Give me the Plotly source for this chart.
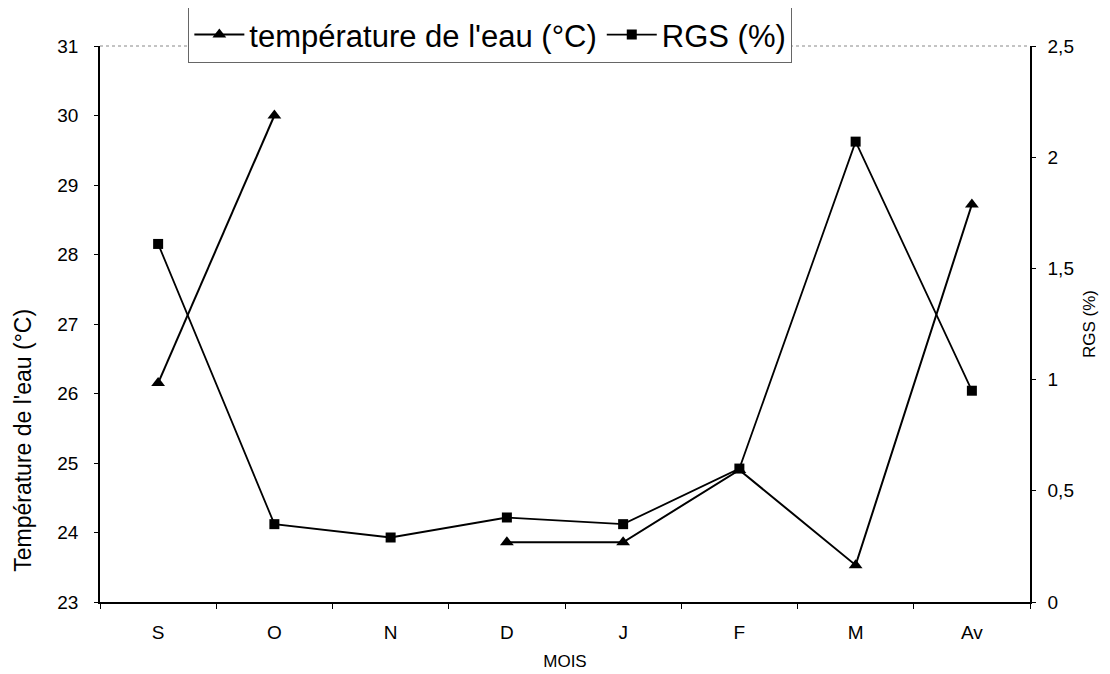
import plotly.graph_objects as go

mois = ["S", "O", "N", "D", "J", "F", "M", "Av"]
temperature = [26.15, 30.0, None, 23.86, 23.86, 24.9, 23.53, 28.72]
rgs = [1.61, 0.35, 0.29, 0.38, 0.35, 0.60, 2.07, 0.95]

temp_ticks = list(range(23, 32))
rgs_ticks = [0, 0.5, 1, 1.5, 2, 2.5]
rgs_labels = ["0", "0,5", "1", "1,5", "2", "2,5"]

fig = go.Figure()
fig.add_trace(go.Scatter(
    name="température de l'eau (°C)", x=mois, y=temperature,
    mode="lines+markers", connectgaps=False,
    line=dict(color="black", width=2),
    marker=dict(symbol="triangle-up", size=12, color="black"),
))
fig.add_trace(go.Scatter(
    name="RGS (%)", x=mois, y=rgs, yaxis="y2",
    mode="lines+markers",
    line=dict(color="black", width=1.8),
    marker=dict(symbol="square", size=10, color="black"),
))

# page body has an 8px margin, so the figure is a bit smaller than the window
fig.update_layout(
    width=1102, height=666,
    margin=dict(l=92, r=80, t=38, b=72, autoexpand=False),
    paper_bgcolor="white", plot_bgcolor="white",
    font=dict(family="Liberation Sans, Arial, sans-serif", color="black", size=19),
    showlegend=True,
    legend=dict(
        orientation="h", x=0.095, y=1.02, xanchor="left", yanchor="middle",
        font=dict(size=31), bgcolor="white",
        bordercolor="#666", borderwidth=1, itemwidth=50,
    ),
    xaxis=dict(
        type="category", range=[-0.5, 7.5],
        showline=True, linecolor="black", linewidth=1.5,
        ticks="outside", tickson="boundaries", ticklen=5, tickcolor="black",
        showgrid=False, tickfont=dict(size=19), ticklabelstandoff=12,
        title=dict(text="MOIS", font=dict(size=17), standoff=14),
    ),
    yaxis=dict(
        range=[23, 31], tickvals=temp_ticks,
        showline=True, linecolor="black", linewidth=1.5,
        ticks="outside", ticklen=4, tickcolor="black",
        showgrid=False, zeroline=False, tickfont=dict(size=19),
        ticklabelstandoff=12,
    ),
    yaxis2=dict(
        overlaying="y", side="right", range=[0, 2.5],
        tickvals=rgs_ticks, ticktext=rgs_labels,
        showline=True, linecolor="black", linewidth=1.5,
        ticks="outside", ticklen=4, tickcolor="black",
        showgrid=False, zeroline=False, tickfont=dict(size=19),
        ticklabelstandoff=8,
        title=dict(text="RGS (%)", font=dict(size=17), standoff=10),
    ),
)

# left title sits low along the axis in the original, so place it by hand
fig.add_annotation(
    text="Température de l'eau (°C)", textangle=-90,
    xref="paper", yref="paper", x=0, y=0.29, xshift=-77,
    xanchor="center", yanchor="middle",
    showarrow=False, font=dict(size=23),
)

# faint dotted top edge of the plot frame
fig.add_shape(type="line", xref="paper", yref="paper", x0=0, x1=1, y0=1, y1=1,
              line=dict(color="#888", width=1, dash="dot"), layer="below")

fig.write_html("out.html")
